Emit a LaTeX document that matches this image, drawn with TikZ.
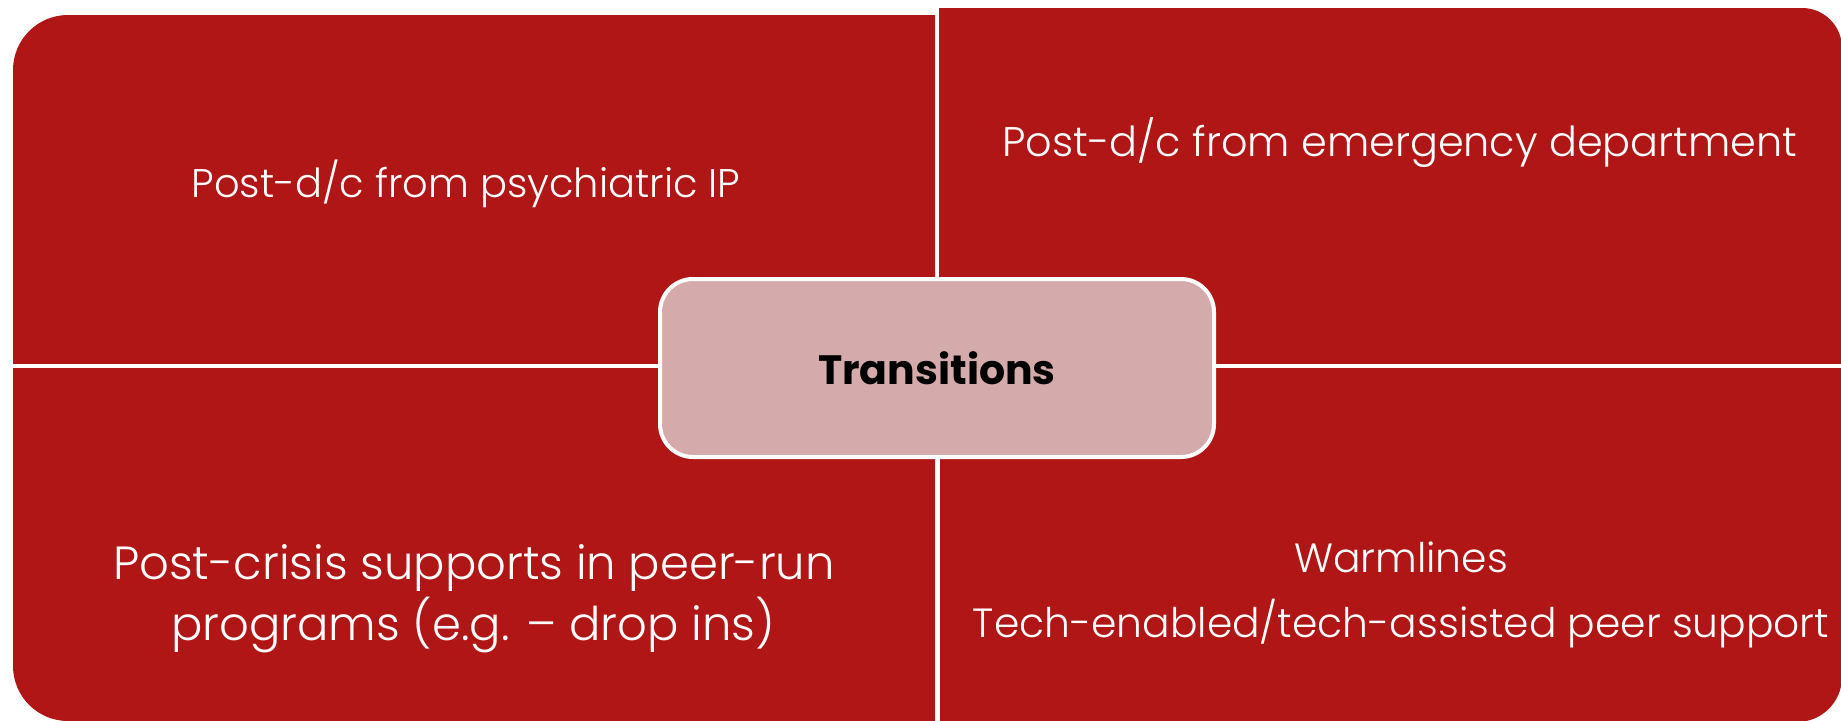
\documentclass[tikz,border=0pt]{standalone}
\usepackage{fontspec}
\setmainfont{Poppins}[UprightFont=* Light, BoldFont=* Bold]
\definecolor{quadred}{RGB}{176,22,21}
\definecolor{hubpink}{RGB}{212,170,170}

\begin{document}
\begin{tikzpicture}[x=1pt,y=-1pt,
  quad/.style={fill=quadred},
  qtext/.style={text=white,anchor=base,inner sep=0pt,font=\fontsize{40.5}{48}\selectfont},
  qbig/.style={font=\fontsize{46.5}{54}\selectfont},
  hub/.style={draw=white,line width=4pt,fill=hubpink,rounded corners=33pt,
    minimum width=554pt,minimum height=178pt,text=black,
    font=\bfseries\fontsize{41}{49}\selectfont}]
\useasboundingbox (0,0) rectangle (1841,720);

% four quadrants, each with its outer corner rounded
\begin{scope}
  \clip (13,15) rectangle (935,363);
  \fill[quad,rounded corners=55pt] (13,15) rectangle (1400,800);
\end{scope}
\begin{scope}
  \clip (939,8) rectangle (1841,363);
  \fill[quad,rounded corners=40pt] (500,8) rectangle (1842,800);
\end{scope}
\begin{scope}
  \clip (13,368) rectangle (935,720);
  \fill[quad,rounded corners=55pt] (13,0) rectangle (1400,721);
\end{scope}
\begin{scope}
  \clip (940,368) rectangle (1841,720);
  \fill[quad,rounded corners=45pt] (500,0) rectangle (1842,722);
\end{scope}

% quadrant labels
\node[qtext,font=\fontsize{40}{48}\selectfont] (tl) at (466,197) {Post-d/c from psychiatric IP};
\node[qtext,font=\fontsize{41.4}{49}\selectfont] (tr) at (1400,156) {Post-d/c from emergency department};
\node[qtext,qbig] (bl1) at (474,579) {Post-crisis supports in peer-run};
\node[qtext,qbig] (bl2) at (473,640) {programs (e.g. – drop ins)};
\node[qtext,font=\fontsize{40.8}{48}\selectfont] (br1) at (1401,572) {Warmlines};
\node[qtext,font=\fontsize{40.8}{48}\selectfont] (br2) at (1401,637) {Tech-enabled/tech-assisted peer support};

% central hub
\node[hub] (hub) at (937,368) {Transitions};
\end{tikzpicture}
\end{document}
